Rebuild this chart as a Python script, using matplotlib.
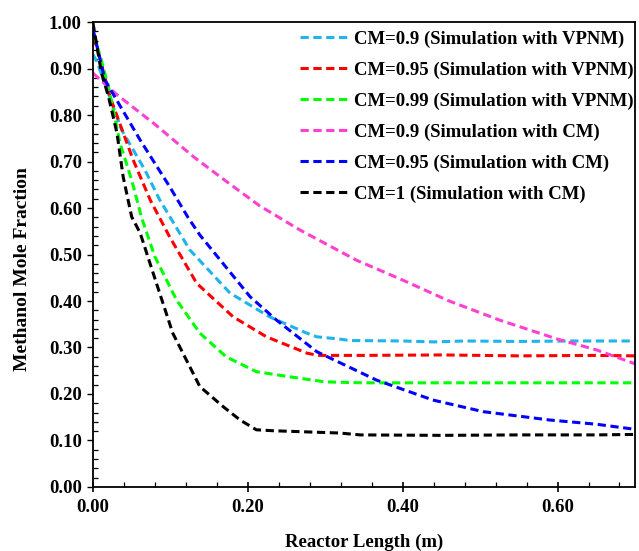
import numpy as np
from matplotlib import pyplot as plt
from matplotlib.ticker import MultipleLocator, FormatStrFormatter

plt.rcParams['font.family'] = ['Liberation Serif', 'DejaVu Serif']
plt.rcParams['font.weight'] = 'bold'

# CM=0.9 (Simulation with VPNM)
vp09_x = [0.0, 0.005, 0.037, 0.067, 0.086, 0.099, 0.125, 0.177, 0.228, 0.276, 0.289, 0.319, 0.332, 0.40, 0.44, 0.48, 0.55, 0.62, 0.70]
vp09_y = [0.93, 0.915, 0.768, 0.682, 0.618, 0.582, 0.51, 0.417, 0.366, 0.331, 0.323, 0.318, 0.315, 0.314, 0.312, 0.314, 0.313, 0.314, 0.314]

# CM=0.95 (Simulation with VPNM)
vp095_x = [0.0, 0.005, 0.022, 0.052, 0.074, 0.099, 0.134, 0.181, 0.224, 0.276, 0.29, 0.35, 0.45, 0.55, 0.65, 0.70]
vp095_y = [0.965, 0.947, 0.839, 0.703, 0.617, 0.538, 0.438, 0.366, 0.323, 0.288, 0.283, 0.283, 0.284, 0.282, 0.283, 0.282]

# CM=0.99 (Simulation with VPNM)
vp099_x = [0.0, 0.009, 0.02, 0.035, 0.05, 0.063, 0.08, 0.108, 0.138, 0.172, 0.211, 0.254, 0.30, 0.35, 0.45, 0.55, 0.65, 0.70]
vp099_y = [0.975, 0.929, 0.861, 0.739, 0.66, 0.578, 0.495, 0.402, 0.331, 0.28, 0.248, 0.237, 0.226, 0.224, 0.224, 0.224, 0.224, 0.224]

# CM=0.9 (Simulation with CM)
cm09_x = [0.0, 0.03, 0.08, 0.13, 0.17, 0.215, 0.267, 0.34, 0.40, 0.46, 0.525, 0.60, 0.65, 0.70]
cm09_y = [0.89, 0.845, 0.78, 0.71, 0.66, 0.605, 0.553, 0.488, 0.445, 0.40, 0.359, 0.318, 0.295, 0.265]

# CM=0.95 (Simulation with CM)
cm095_x = [0.0, 0.0155, 0.061, 0.099, 0.123, 0.138, 0.203, 0.237, 0.289, 0.366, 0.439, 0.504, 0.59, 0.65, 0.70]
cm095_y = [0.985, 0.875, 0.746, 0.646, 0.579, 0.542, 0.409, 0.359, 0.291, 0.23, 0.187, 0.162, 0.144, 0.135, 0.124]

# CM=1 (Simulation with CM)
cm1_x = [0.0, 0.011, 0.02, 0.031, 0.039, 0.05, 0.061, 0.082, 0.103, 0.138, 0.168, 0.19, 0.211, 0.232, 0.319, 0.345, 0.45, 0.55, 0.65, 0.70]
cm1_y = [0.998, 0.89, 0.84, 0.761, 0.667, 0.581, 0.546, 0.438, 0.331, 0.216, 0.173, 0.144, 0.123, 0.121, 0.116, 0.112, 0.111, 0.112, 0.112, 0.113]

series = [
    (vp09_x, vp09_y, "#1fb4ea", "CM=0.9 (Simulation with VPNM)"),
    (vp095_x, vp095_y, "#ff0000", "CM=0.95 (Simulation with VPNM)"),
    (vp099_x, vp099_y, "#00ff00", "CM=0.99 (Simulation with VPNM)"),
    (cm09_x, cm09_y, "#ff40d0", "CM=0.9 (Simulation with CM)"),
    (cm095_x, cm095_y, "#0000ff", "CM=0.95 (Simulation with CM)"),
    (cm1_x, cm1_y, "#000000", "CM=1 (Simulation with CM)"),
]

fig = plt.figure(figsize=(6.39, 5.51), dpi=100)
ax = fig.add_axes([0.1455, 0.1162, 0.8482, 0.8438])

for xs, ys, col, lab in series:
    ax.plot(xs, ys, color=col, lw=2.2, dashes=(2.7, 1.5), label=lab)

ax.set_xlim(0, 0.7)
ax.set_ylim(0, 1.0)
ax.xaxis.set_major_locator(MultipleLocator(0.2))
ax.xaxis.set_minor_locator(MultipleLocator(0.04))
ax.yaxis.set_major_locator(MultipleLocator(0.1))
ax.yaxis.set_minor_locator(MultipleLocator(0.02))
ax.xaxis.set_major_formatter(FormatStrFormatter("%.2f"))
ax.yaxis.set_major_formatter(FormatStrFormatter("%.2f"))

ax.tick_params(axis="x", which="major", direction="inout", length=7, width=1.2, pad=5, labelsize=13.5)
ax.tick_params(axis="y", which="major", direction="out", length=4, width=1.0, pad=4, labelsize=13.5)
ax.tick_params(which="minor", direction="in", length=3.5, width=0.9)
for sp in ax.spines.values():
    sp.set_linewidth(1.3)

ax.set_xlabel("Reactor Length (m)", fontsize=13.5, fontweight="bold", labelpad=13)
ax.set_ylabel("Methanol Mole Fraction", fontsize=14, fontweight="bold")
ax.yaxis.set_label_coords(-0.114, 0.469)

ax.legend(loc="upper right", bbox_to_anchor=(1.013, 1.0), frameon=False, fontsize=13.5,
          handlelength=2.65, labelspacing=0.73, borderaxespad=0.15, borderpad=0.3,
          handletextpad=0.25)

plt.savefig("out.png", dpi=100)
